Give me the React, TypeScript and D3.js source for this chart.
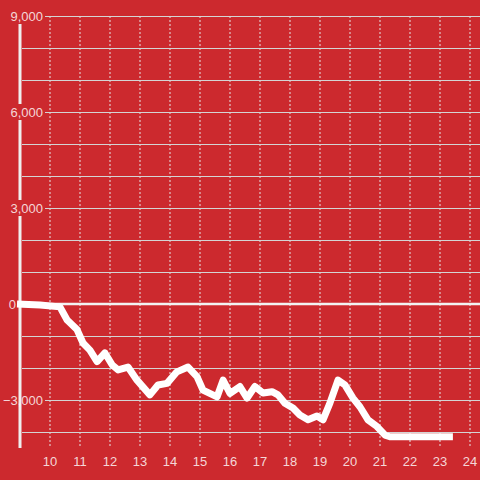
import React from "react";
import * as d3 from "d3";

const hours: number[] = [8.9, 9.67, 10.33, 10.57, 10.9, 11.1, 11.33, 11.57, 11.83, 12.07, 12.27, 12.6, 12.9, 13.33, 13.6, 13.9, 14.23, 14.6, 14.9, 15.1, 15.57, 15.77, 16.0, 16.33, 16.57, 16.83, 17.1, 17.4, 17.6, 17.83, 18.1, 18.33, 18.6, 18.9, 19.1, 19.33, 19.6, 19.83, 20.1, 20.33, 20.6, 20.9, 21.17, 21.33, 23.43];
const values: number[] = [0, -30, -90, -500, -800, -1220, -1440, -1800, -1530, -1900, -2060, -1970, -2380, -2840, -2530, -2480, -2120, -1970, -2270, -2690, -2900, -2380, -2790, -2580, -2940, -2580, -2780, -2740, -2840, -3100, -3250, -3470, -3620, -3500, -3620, -3100, -2380, -2530, -2940, -3210, -3620, -3830, -4100, -4150, -4150];

const yGridValues: number[] = [9000, 8000, 7000, 6000, 5000, 4000, 3000, 2000, 1000, -1000, -2000, -3000, -4000];
const yLabelValues: number[] = [9000, 6000, 3000, 0, -3000];
const xTickValues: number[] = [10, 11, 12, 13, 14, 15, 16, 17, 18, 19, 20, 21, 22, 23, 24];

const W = 480;
const H = 480;
const BG = "#cc292e";
const TEXT = "rgba(255,255,255,0.82)";
const FONT = "'Liberation Sans', Arial, sans-serif";

export default function App() {
  const x = d3.scaleLinear().domain([9, 24 + 1 / 3]).range([20, 480]);
  const y = d3.scaleLinear().domain([-4500, 9000]).range([448, 16]);
  const fmt = d3.format(",");

  const data = hours.map((h, i) => [h, values[i]] as [number, number]);
  const line = d3
    .line<[number, number]>()
    .x((d) => x(d[0]))
    .y((d) => y(d[1]));

  return (
    <svg
      width={W}
      height={H}
      style={{ position: "absolute", left: 0, top: 0, display: "block" }}
    >
      <rect x={0} y={0} width={W} height={H} fill={BG} />
      {xTickValues.map((t) => (
        <line
          key={"vx" + t}
          x1={x(t)}
          x2={x(t)}
          y1={y(9000)}
          y2={y(-4500)}
          stroke="#e6e6e6"
          strokeWidth={1}
          strokeDasharray="2,2"
        />
      ))}
      {yGridValues.map((v) => {
        const labeled = yLabelValues.includes(v);
        return (
          <line
            key={"hy" + v}
            x1={labeled ? 45 : 22}
            x2={W}
            y1={y(v) + 0.5}
            y2={y(v) + 0.5}
            stroke="#d4d4d4"
            strokeWidth={1}
          />
        );
      })}
      <line x1={20} x2={20} y1={24} y2={448} stroke="#efefef" strokeWidth={3} />
      {yLabelValues
        .filter((v) => v > 0)
        .map((v) => (
          <rect key={"bg" + v} x={16} y={y(v) - 8} width={28} height={16} fill={BG} />
        ))}
      <line x1={17} x2={W} y1={y(0)} y2={y(0)} stroke="#f2f2f2" strokeWidth={2.5} />
      {yLabelValues.map((v) => (
        <text
          key={"yl" + v}
          x={v === 0 ? 16 : 43}
          y={y(v)}
          dy="0.35em"
          textAnchor="end"
          fill={TEXT}
          fontFamily={FONT}
          fontSize={13}
        >
          {fmt(v)}
        </text>
      ))}
      {xTickValues.map((t) => (
        <text
          key={"xl" + t}
          x={x(t)}
          y={465.5}
          textAnchor="middle"
          fill={TEXT}
          fontFamily={FONT}
          fontSize={13}
        >
          {t}
        </text>
      ))}
      <path
        d={line(data) || ""}
        fill="none"
        stroke="#ffffff"
        strokeWidth={7}
        strokeLinejoin="round"
        strokeLinecap="butt"
      />
    </svg>
  );
}
